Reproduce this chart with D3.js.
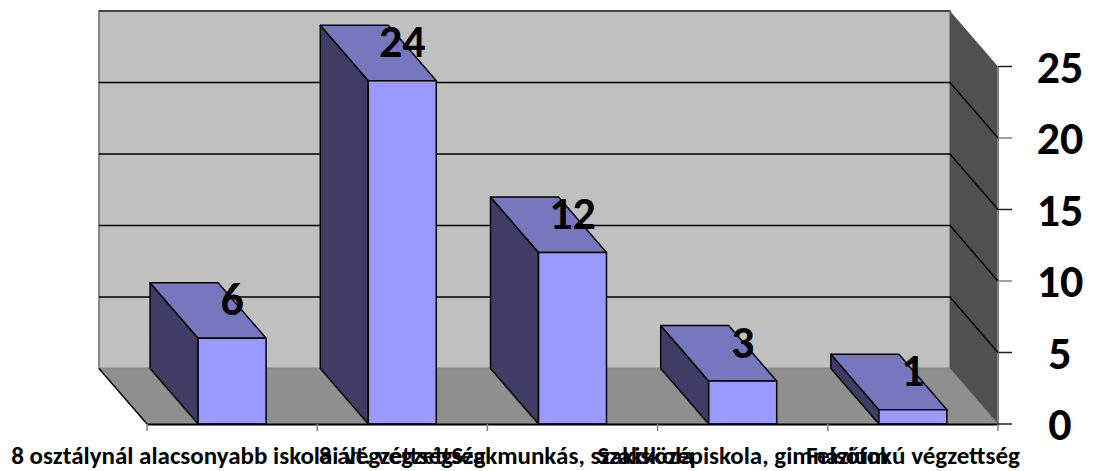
<!DOCTYPE html>
<html><head><meta charset="utf-8"><script src="https://cdn.jsdelivr.net/npm/d3@7"></script>
<style>html,body{margin:0;background:#fff}svg{display:block}text{font-family:Carlito,Lato,sans-serif;font-weight:700;fill:#000}</style></head>
<body><svg id="c" width="1093" height="471"></svg>
<script>
const categories=["8 osztálynál alacsonyabb iskolai végzettség","8 ált. végzettség","Szakmunkás, szakiskola","Szakközépiskola, gimnázium","Felsőfokú végzettség"];
const values=[6,24,12,3,1];
const ticks=[0,5,10,15,20,25];
const svg=d3.select("#c");
const x=d3.scaleBand().domain(categories).range([147,998]);
const y=d3.scaleLinear().domain([0,25]).range([424,66.5]);
const dx=-48,dy=-55.5,barW=68;
const poly=(pts,fill,stroke="#000",sw=1.5)=>svg.append("polygon").attr("points",pts.map(p=>p.join(",")).join(" ")).attr("fill",fill).attr("stroke",stroke).attr("stroke-width",sw).attr("stroke-linejoin","round");
const x0=x.range()[0],x1=x.range()[1],yb=y(0),yt=y(25);
poly([[x0+dx,yb+dy],[x1+dx,yb+dy],[x1,yb],[x0,yb]],"#8f8f8f","none",0);
poly([[x0+dx,yt+dy],[x1+dx,yt+dy],[x1+dx,yb+dy],[x0+dx,yb+dy]],"#c0c0c0","#8a8a8a",2);
poly([[x1+dx,yt+dy],[x1,yt],[x1,yb],[x1+dx,yb+dy]],"#505050","none",0);
svg.append("line").attr("x1",x0+dx).attr("x2",x1+dx).attr("y1",yt+dy).attr("y2",yt+dy).attr("stroke","#444").attr("stroke-width",2);
svg.append("line").attr("x1",x1).attr("x2",x1).attr("y1",yt).attr("y2",yb).attr("stroke","#808080").attr("stroke-width",2);
svg.append("line").attr("x1",x0+dx).attr("x2",x0).attr("y1",yb+dy).attr("y2",yb).attr("stroke","#000").attr("stroke-width",1.5);
svg.append("line").attr("x1",x1+dx).attr("x2",x1).attr("y1",yb+dy).attr("y2",yb).attr("stroke","#777").attr("stroke-width",1);
ticks.filter(t=>t>0&&t<25).forEach(t=>{
  svg.append("polyline").attr("points",[[x0+dx,y(t)+dy],[x1+dx,y(t)+dy],[x1,y(t)]].map(p=>p.join(",")).join(" ")).attr("fill","none").attr("stroke","#000").attr("stroke-width",1.5);
});
values.forEach((v,i)=>{
  const l=x(categories[i])+(x.bandwidth()-barW)/2,r=l+barW,t=y(v),b=y(0);
  poly([[l+dx,t+dy],[l,t],[l,b],[l+dx,b+dy]],"#3f3c66");
  poly([[l+dx,t+dy],[r+dx,t+dy],[r,t],[l,t]],"#7777bf");
  poly([[l,t],[r,t],[r,b],[l,b]],"#9999ff");
});
const ax=svg.append("g").attr("transform",`translate(0,${yb})`).call(d3.axisBottom(x).tickValues([]).tickSize(0));
ax.select(".domain").attr("stroke","#000").attr("stroke-width",2);
[...categories.map(c=>x(c)),x1].forEach(p=>svg.append("line").attr("x1",p).attr("x2",p).attr("y1",yb).attr("y2",yb+7).attr("stroke","#808080").attr("stroke-width",1.5));
ticks.forEach(t=>{
  svg.append("line").attr("x1",x1).attr("x2",x1+14).attr("y1",y(t)).attr("y2",y(t)).attr("stroke",t%10==0&&t>0?"#808080":"#222").attr("stroke-width",1.5);
  svg.append("text").attr("x",1060).attr("y",y(t)+16).attr("text-anchor","middle").attr("font-size",46).text(t);
});
categories.forEach(c=>svg.append("text").attr("x",x(c)+x.bandwidth()/2).attr("y",464).attr("text-anchor","middle").attr("font-size",25).text(c));
values.forEach((v,i)=>svg.append("text").attr("x",x(categories[i])+x.bandwidth()/2).attr("y",y(v)+dy+32).attr("text-anchor","middle").attr("font-size",46).text(v));
</script></body></html>
